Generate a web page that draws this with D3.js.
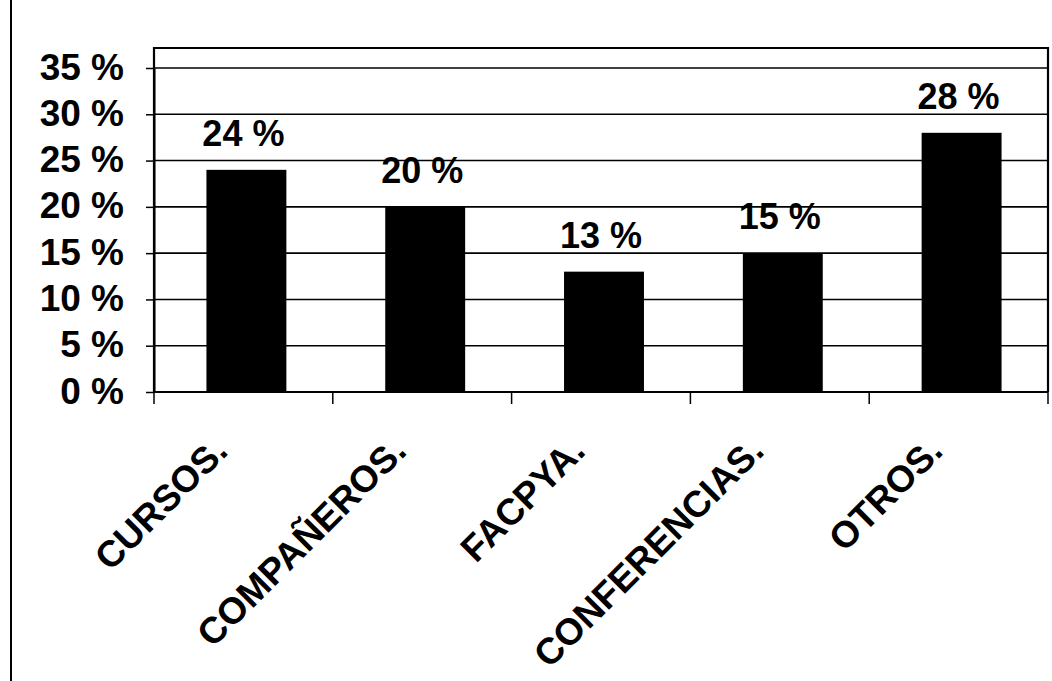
<!DOCTYPE html>
<html>
<head>
<meta charset="utf-8">
<script src="https://cdn.jsdelivr.net/npm/d3@7"></script>
<style>
  html, body { margin: 0; padding: 0; background: #fff; }
  svg { display: block; }
  text { font-family: "Liberation Sans", Arial, sans-serif; font-weight: bold; fill: #000; }
</style>
</head>
<body>
<svg id="chart" width="1052" height="681"></svg>
<script>
// Fuentes de información: porcentaje por categoría
const categories = ["CURSOS.", "COMPAÑEROS.", "FACPYA.", "CONFERENCIAS.", "OTROS."];
const values = [24, 20, 13, 15, 28];
const yTicks = [0, 5, 10, 15, 20, 25, 30, 35];

const W = 1052, H = 681;
const plot = { left: 154, right: 1048, top: 48, bottom: 392 };

const svg = d3.select("#chart");

// Page frame line on the left edge
svg.append("line")
  .attr("x1", 11).attr("x2", 11).attr("y1", 0).attr("y2", H)
  .attr("stroke", "#000").attr("stroke-width", 2);

const x = d3.scaleBand()
  .domain(categories)
  .range([plot.left, plot.right])
  .padding(0);

const y = d3.scaleLinear()
  .domain([0, 35])
  .range([plot.bottom, 68]);

// Horizontal gridlines
svg.append("g")
  .selectAll("line")
  .data(yTicks.filter(d => d > 0))
  .join("line")
  .attr("x1", plot.left).attr("x2", plot.right)
  .attr("y1", d => y(d)).attr("y2", d => y(d))
  .attr("stroke", "#000").attr("stroke-width", 1.6);

// Plot area frame (top, right, left)
svg.append("path")
  .attr("d", `M${plot.left},${plot.bottom} V${plot.top} H${plot.right} V${plot.bottom}`)
  .attr("fill", "none").attr("stroke", "#000").attr("stroke-width", 2.2);

// Y axis with percentage labels
const yAxis = d3.axisLeft(y)
  .tickValues(yTicks)
  .tickSize(8)
  .tickSizeOuter(0)
  .tickPadding(0)
  .tickFormat(d => d + " %");

const yg = svg.append("g")
  .attr("transform", `translate(${plot.left},0)`)
  .call(yAxis);
yg.select(".domain").attr("stroke", "#000").attr("stroke-width", 2);
yg.selectAll(".tick line").attr("stroke", "#000").attr("stroke-width", 1.5);
yg.selectAll(".tick text")
  .attr("x", -30)
  .attr("dy", null)
  .attr("y", 11)
  .attr("font-size", 37)
  .attr("text-anchor", "end");

// Bars
const barW = x.bandwidth() * 0.447;
svg.append("g")
  .selectAll("rect")
  .data(values)
  .join("rect")
  .attr("x", (d, i) => x(categories[i]) + x.bandwidth() / 2 - barW / 2 + 3)
  .attr("y", d => y(d))
  .attr("width", barW)
  .attr("height", d => y(0) - y(d))
  .attr("fill", "#000");

// Value labels above bars
svg.append("g")
  .selectAll("text")
  .data(values)
  .join("text")
  .attr("x", (d, i) => x(categories[i]) + x.bandwidth() / 2)
  .attr("y", d => y(d) - 24)
  .attr("text-anchor", "middle")
  .attr("font-size", 36)
  .text(d => d + " %");

// X axis line and category boundary ticks
const xg = svg.append("g");
xg.append("line")
  .attr("x1", plot.left).attr("x2", plot.right)
  .attr("y1", plot.bottom).attr("y2", plot.bottom)
  .attr("stroke", "#000").attr("stroke-width", 2);
const bounds = categories.map(c => x(c)).concat([plot.right]);
xg.selectAll(".bt")
  .data(bounds)
  .join("line")
  .attr("class", "bt")
  .attr("x1", d => d).attr("x2", d => d)
  .attr("y1", plot.bottom).attr("y2", plot.bottom + 12)
  .attr("stroke", "#000").attr("stroke-width", 1.5);

// Rotated category labels
xg.selectAll(".cl")
  .data(categories)
  .join("text")
  .attr("class", "cl")
  .attr("text-anchor", "end")
  .attr("font-size", 37)
  .attr("transform", d => `translate(${x(d) + x.bandwidth() / 2 - 14},453) rotate(-45)`)
  .text(d => d);
</script>
</body>
</html>
